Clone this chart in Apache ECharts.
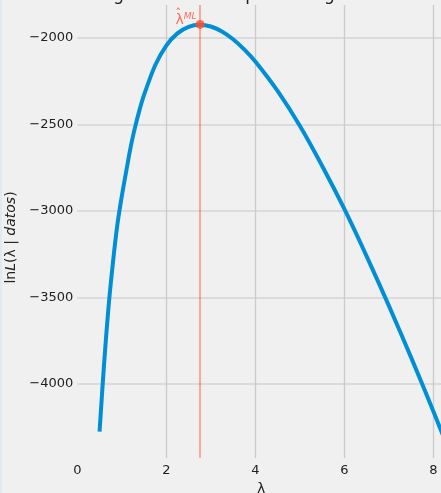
<!DOCTYPE html>
<html>
<head>
<meta charset="utf-8">
<script src="https://cdn.jsdelivr.net/npm/echarts@6/dist/echarts.min.js"></script>
<style>
html,body{margin:0;padding:0;background:#f0f0f0;}
#c{width:441px;height:493px;}
</style>
</head>
<body>
<div id="c"></div>
<script>
// lambda values and log-likelihood
var lambdas = [0.5,0.6,0.7,0.8,0.9,1.0,1.1,1.2,1.3,1.4,1.5,1.75,2.0,2.25,2.5,2.75,3.0,3.25,3.5,3.75,4.0,4.5,5.0,5.5,6.0,6.5,7.0,7.5,8.0,8.5];
var logLik  = [-4275,-3890,-3560,-3300,-3080,-2915,-2770,-2630,-2515,-2415,-2330,-2159,-2045,-1975,-1937,-1925,-1935,-1964,-2009,-2067,-2137,-2307,-2508,-2739,-2989,-3261,-3547,-3846,-4157,-4479];
var lambdaML = [2.76];
var logLikML = [-1923];
var xTicks = [0,2,4,6,8];
var yTicks = [-2000,-2500,-3000,-3500,-4000];

var curve = lambdas.map(function(l,i){return [l, logLik[i]];});
var mle = lambdaML.map(function(l,i){return [l, logLikML[i]];});

var chart = echarts.init(document.getElementById('c'), null, {renderer:'canvas'});
var font = '"DejaVu Sans", sans-serif';
var red = '#fc4f30';
chart.setOption({
  backgroundColor:'#f0f0f0',
  animation:false,
  textStyle:{fontFamily:font},
  graphic:[{type:'rect',shape:{x:0,y:0,width:2,height:493},style:{fill:'#e1eaf3'},silent:true}],
  title:{
    text:'Log-verosimilitud para λ según los datos',
    left:261, textAlign:'center', top:-18,
    textStyle:{fontFamily:font,fontSize:17,fontWeight:'normal',color:'#222'}
  },
  grid:{left:77.3, right:-3.9, top:5, bottom:35, containLabel:false, outerBoundsMode:'none'},
  xAxis:{
    type:'value', min:0, max:8.26, interval:2,
    name:'λ', nameLocation:'middle', nameGap:21,
    nameTextStyle:{fontFamily:font,fontSize:14,color:'#222'},
    axisLine:{show:false}, axisTick:{show:false},
    axisLabel:{fontFamily:font,fontSize:13,color:'#222',margin:6,customValues: xTicks},
    splitLine:{show:true,showMinLine:false,showMaxLine:false,lineStyle:{color:'#cbcbcb',width:1.3}}
  },
  yAxis:{
    type:'value', min:-4427, max:-1811, minInterval:500, maxInterval:500, splitNumber:5,
    name:'{n|ln}{i|L}{n|(λ | }{i|datos}{n|)}', nameLocation:'middle', nameGap:46,
    nameTextStyle:{fontFamily:font,fontSize:14,color:'#222',padding:[0,12,0,0],
      rich:{n:{fontFamily:font,fontSize:14,color:'#222'},i:{fontFamily:font,fontSize:14,fontStyle:'italic',color:'#222'}}},
    axisLine:{show:false}, axisTick:{show:false},
    axisLabel:{fontFamily:font,fontSize:13,color:'#222',margin:4,customValues: yTicks,
      formatter:function(v){return String(v).replace('-','\u2212');}},
    splitLine:{show:true,showMinLine:false,showMaxLine:false,lineStyle:{color:'#d5d5d5',width:1.5}}
  },
  series:[
    {
      type:'line', data:curve, smooth:0.3, showSymbol:false, clip:true,
      lineStyle:{color:'#008fd5',width:4}, itemStyle:{color:'#008fd5'}, z:3
    },
    {
      type:'scatter', data:mle, symbol:'circle', symbolSize:9, clip:false,
      itemStyle:{color:red}, z:4,
      label:{show:true, position:'left', distance:1, offset:[2,-4],
        formatter:'{l|λ}{s|ML}',
        rich:{
          l:{fontFamily:font,fontSize:14,color:red},
          s:{fontFamily:font,fontSize:9,fontStyle:'italic',color:red,padding:[0,0,8,0]}
        }},
      markLine:{
        silent:true, symbol:'none', label:{show:false},
        lineStyle:{color:red,width:1.5,type:'solid',opacity:0.6},
        data:[{xAxis:lambdaML[0]}]
      }
    },
    {
      type:'scatter', data:mle, symbol:'circle', symbolSize:0, clip:false, silent:true,
      itemStyle:{color:'rgba(0,0,0,0)'}, z:5,
      label:{show:true, position:'left', distance:0, offset:[-19,-10],
        formatter:'\u02C6', fontFamily:font, fontSize:12, color:red}
    }
  ]
});
</script>
</body>
</html>
